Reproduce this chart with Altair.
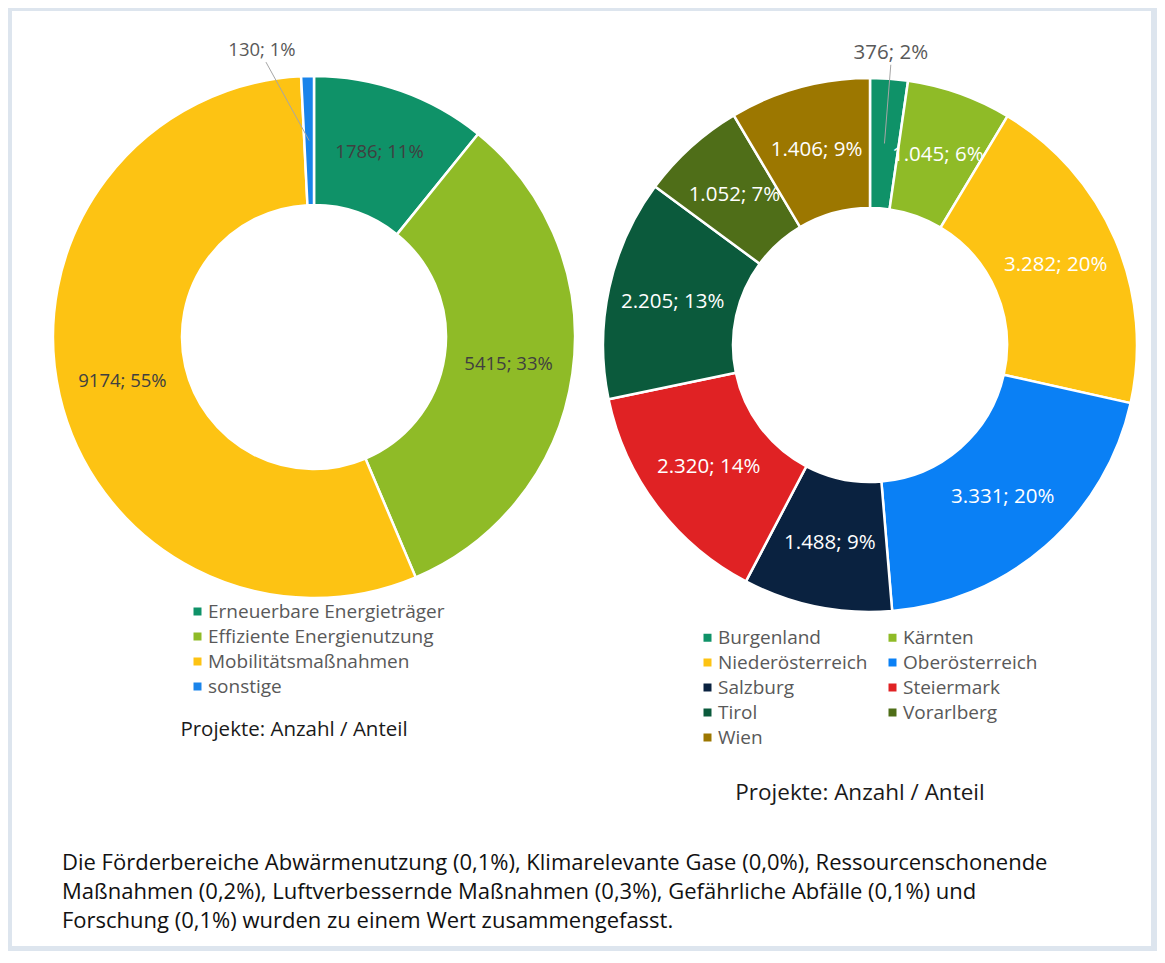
import altair as alt
import pandas as pd

# ---------------- data ----------------
cats_left = ["Erneuerbare Energieträger", "Effiziente Energienutzung", "Mobilitätsmaßnahmen", "sonstige"]
vals_left = [1786, 5415, 9174, 130]
pct_left = [11, 33, 55, 1]
colors_left = ["#0f9268", "#8fbb27", "#fdc313", "#1a84ea"]

cats_right = ["Burgenland", "Kärnten", "Niederösterreich", "Oberösterreich", "Salzburg",
              "Steiermark", "Tirol", "Vorarlberg", "Wien"]
vals_right = [376, 1045, 3282, 3331, 1488, 2320, 2205, 1052, 1406]
pct_right = [2, 6, 20, 20, 9, 14, 13, 7, 9]
colors_right = ["#0f9268", "#8fbb27", "#fdc313", "#0a80f5", "#0a2240",
                "#e02224", "#0b5a3c", "#4f6e18", "#9c7700"]

subtitle = "Projekte: Anzahl / Anteil"
footnote = [
    "Die Förderbereiche Abwärmenutzung (0,1%), Klimarelevante Gase (0,0%), Ressourcenschonende",
    "Maßnahmen (0,2%), Luftverbessernde Maßnahmen (0,3%), Gefährliche Abfälle (0,1%) und",
    "Forschung (0,1%) wurden zu einem Wert zusammengefasst.",
]

FONT = "Open Sans"


def de_num(v):
    return f"{v:,}".replace(",", ".")


df_left = pd.DataFrame({
    "cat": cats_left, "value": vals_left, "idx": range(len(cats_left)),
    "label": [f"{v}; {p}%" for v, p in zip(vals_left, pct_left)],
})
df_right = pd.DataFrame({
    "cat": cats_right, "value": vals_right, "idx": range(len(cats_right)),
    "label": [f"{de_num(v)}; {p}%" for v, p in zip(vals_right, pct_right)],
})


def donut(df, cats, colors, cx, cy, R, r, label_color, label_size, legend, out_dx):
    rm = (R + r) / 2
    rout = R + 24
    base = alt.Chart(df)
    arcs = base.mark_arc(
        innerRadius=r, outerRadius=R, stroke="white", strokeWidth=2.5, x=cx, y=cy
    ).encode(
        theta=alt.Theta("value:Q", stack=True),
        color=alt.Color("cat:N", scale=alt.Scale(domain=cats, range=colors), sort=cats, legend=legend),
        order=alt.Order("idx:Q"),
    )
    pos = base.transform_joinaggregate(total="sum(value)").transform_window(
        cum="sum(value)", sort=[alt.SortField("idx")], frame=[None, 0]
    ).transform_calculate(
        mid="(datum.cum - datum.value/2) / datum.total * 2 * PI",
        share="datum.value / datum.total",
    ).transform_calculate(
        px=f"{cx} + {rm}*sin(datum.mid)",
        py=f"{cy} - {rm}*cos(datum.mid)",
        ox=f"{cx} + {rout}*sin(datum.mid) + {out_dx}",
        oy=f"{cy} - {rout}*cos(datum.mid)",
    )
    inside = pos.transform_filter("datum.share >= 0.03").mark_text(
        font=FONT, fontSize=label_size, color=label_color, baseline="middle", align="center"
    ).encode(x=alt.X("px:Q", scale=None), y=alt.Y("py:Q", scale=None), text="label:N")
    outside_pos = pos.transform_filter("datum.share < 0.03")
    lead = outside_pos.transform_calculate(
        lx=f"datum.ox + {4 if out_dx else 0}", ly="datum.oy + 10"
    ).mark_rule(color="#a6a6a6", strokeWidth=1).encode(
        x=alt.X("px:Q", scale=None), y=alt.Y("py:Q", scale=None),
        x2="lx:Q", y2="ly:Q",
    )
    outside = outside_pos.mark_text(
        font=FONT, fontSize=label_size, color="#595959", baseline="bottom", align="center", dy=8
    ).encode(x=alt.X("ox:Q", scale=None), y=alt.Y("oy:Q", scale=None), text="label:N")
    return [arcs, lead, inside, outside]


leg_common = dict(
    orient="none", title=None, symbolType="square", symbolSize=64, symbolStrokeWidth=0,
    labelFont=FONT, labelFontSize=19, labelColor="#595959", rowPadding=5,
    padding=0, labelLimit=400, labelOffset=1,
)
legend_left = alt.Legend(legendX=180, legendY=594, **leg_common)
legend_right = alt.Legend(legendX=690, legendY=620, columns=2, columnPadding=15,
                          direction="horizontal", **leg_common)

left_layers = donut(df_left, cats_left, colors_left, 306, 329, 261, 132, "#404040", 18.5, legend_left, -45)
right_layers = donut(df_right, cats_right, colors_right, 862, 337, 267, 137, "#ffffff", 20.5, legend_right, 0)

# subtitles
sub_df = pd.DataFrame({"t": [subtitle]})
sub_left = alt.Chart(sub_df).mark_text(
    font=FONT, fontSize=20.5, color="#1a1a1a", align="center", baseline="middle"
).encode(x=alt.value(286), y=alt.value(722), text="t:N")
sub_right = alt.Chart(sub_df).mark_text(
    font=FONT, fontSize=22.5, color="#1a1a1a", align="center", baseline="middle"
).encode(x=alt.value(852), y=alt.value(785), text="t:N")

# footnote
foot_df = pd.DataFrame({"t": footnote, "i": range(len(footnote))})
foot = alt.Chart(foot_df).transform_calculate(
    yy="854.5 + datum.i * 29"
).mark_text(
    font=FONT, fontSize=22, color="#111111", align="left", baseline="middle"
).encode(x=alt.value(54), y=alt.Y("yy:Q", scale=None), text="t:N")

# border frame
frame = alt.Chart(pd.DataFrame({"a": [0]})).mark_rect(
    fill=None, stroke="#dde5ee", strokeWidth=6
).encode(x=alt.value(1), x2=alt.value(1146), y=alt.value(0), y2=alt.value(941))

chart = alt.layer(
    frame, *left_layers, *right_layers, sub_left, sub_right, foot
).resolve_scale(
    theta="independent", color="independent"
).properties(
    width=1149, height=943, padding=0, autosize=alt.AutoSizeParams(type="none")
).configure_view(stroke=None).configure(font=FONT, background="white")

chart.save("out.html", embed_options={"renderer": "svg", "actions": False})
